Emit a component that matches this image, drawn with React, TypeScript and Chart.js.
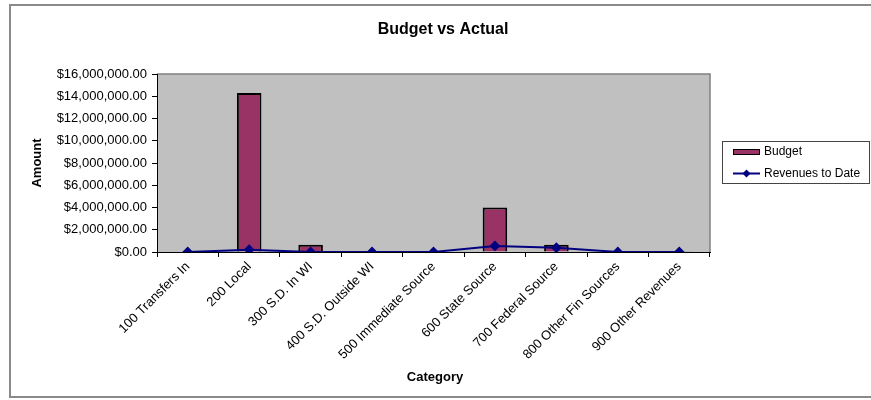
import React, { useEffect, useRef } from "react";
import { Chart, registerables } from "chart.js";

Chart.register(...registerables);

const categories = [
  "100 Transfers In",
  "200 Local",
  "300 S.D. In WI",
  "400 S.D. Outside WI",
  "500 Immediate Source",
  "600 State Source",
  "700 Federal Source",
  "800 Other Fin Sources",
  "900 Other Revenues",
];
const budget = [0, 14300000, 650000, 0, 0, 4000000, 650000, 0, 60000];
const revenuesToDate = [0, 200000, 0, 0, 0, 550000, 380000, 0, 0];
const yMin = 0;
const yMax = 16000000;
const yStep = 2000000;

const chartTitle = "Budget vs Actual";
const xTitle = "Category";
const yTitle = "Amount";

const FONT = "'Liberation Sans', Arial, sans-serif";
const BAR_COLOR = "#993366";
const LINE_COLOR = "#000080";

const money = (v: number) =>
  "$" + v.toLocaleString("en-US", { minimumFractionDigits: 2, maximumFractionDigits: 2 });

const decorPlugin = {
  id: "decor",
  beforeDraw(chart: any) {
    const { ctx, chartArea } = chart;
    const { left, top, right, bottom } = chartArea;
    ctx.save();
    ctx.fillStyle = "#ffffff";
    ctx.fillRect(0, 0, chart.width, chart.height);
    // outer frame
    ctx.strokeStyle = "#8a8a8a";
    ctx.lineWidth = 2;
    ctx.strokeRect(10, 5, chart.width + 20, 392);
    // plot area
    ctx.fillStyle = "#c0c0c0";
    ctx.fillRect(left, top, right - left, bottom - top);
    ctx.strokeStyle = "#808080";
    ctx.lineWidth = 1.5;
    ctx.beginPath();
    ctx.moveTo(left, top);
    ctx.lineTo(right, top);
    ctx.lineTo(right, bottom);
    ctx.stroke();
    ctx.restore();
  },
  afterDraw(chart: any) {
    const { ctx, chartArea } = chart;
    ctx.save();
    ctx.fillStyle = "#000";
    // title
    ctx.font = `bold 16px ${FONT}`;
    ctx.textAlign = "center";
    ctx.textBaseline = "middle";
    ctx.fillText(chartTitle, 443, 30);
    // axis titles
    ctx.font = `bold 13px ${FONT}`;
    ctx.fillText(xTitle, 435, 377);
    ctx.save();
    ctx.translate(37, (chartArea.top + chartArea.bottom) / 2);
    ctx.rotate(-Math.PI / 2);
    ctx.fillText(yTitle, 0, 0);
    ctx.restore();
    // legend
    const ds = chart.data.datasets;
    ctx.strokeStyle = "#444";
    ctx.lineWidth = 1;
    ctx.strokeRect(722.5, 141.5, 147, 42);
    ctx.font = `12px ${FONT}`;
    ctx.textAlign = "left";
    ctx.textBaseline = "middle";
    // Budget swatch
    ctx.fillStyle = BAR_COLOR;
    ctx.fillRect(733, 149, 27, 6);
    ctx.strokeStyle = "#000";
    ctx.lineWidth = 1;
    ctx.strokeRect(733.5, 149.5, 26, 5);
    ctx.fillStyle = "#000";
    ctx.fillText(ds[0].label, 764, 152);
    // Revenues line
    ctx.strokeStyle = LINE_COLOR;
    ctx.lineWidth = 2;
    ctx.beginPath();
    ctx.moveTo(733, 173.5);
    ctx.lineTo(760, 173.5);
    ctx.stroke();
    ctx.fillStyle = LINE_COLOR;
    ctx.beginPath();
    ctx.moveTo(746.5, 169.5);
    ctx.lineTo(750.5, 173.5);
    ctx.lineTo(746.5, 177.5);
    ctx.lineTo(742.5, 173.5);
    ctx.closePath();
    ctx.fill();
    ctx.fillStyle = "#000";
    ctx.fillText(ds[1].label, 764, 173.5);
    ctx.restore();
  },
};

export default function App() {
  const ref = useRef<HTMLCanvasElement | null>(null);
  useEffect(() => {
    if (!ref.current) return;
    const chart = new Chart(ref.current, {
      type: "bar",
      data: {
        labels: categories,
        datasets: [
          {
            type: "bar",
            label: "Budget",
            data: budget,
            backgroundColor: BAR_COLOR,
            borderColor: "#000000",
            borderWidth: 2,
            barPercentage: 0.4,
            categoryPercentage: 1,
            order: 1,
          },
          {
            type: "line",
            label: "Revenues to Date",
            data: revenuesToDate,
            borderColor: LINE_COLOR,
            backgroundColor: LINE_COLOR,
            borderWidth: 2,
            pointStyle: "rectRot",
            pointRadius: 4,
            pointBackgroundColor: LINE_COLOR,
            pointBorderColor: LINE_COLOR,
            tension: 0,
            order: 0,
          } as any,
        ],
      },
      options: {
        animation: false,
        responsive: false,
        maintainAspectRatio: false,
        devicePixelRatio: 1,
        layout: { padding: { top: 74, right: 161, bottom: 0, left: 0 } },
        plugins: {
          legend: { display: false },
          title: { display: false },
          tooltip: { enabled: false },
        },
        scales: {
          x: {
            offset: true,
            grid: {
              display: true,
              drawOnChartArea: false,
              drawTicks: true,
              tickLength: 5,
              color: "#000",
              offset: true,
            },
            border: { display: true, color: "#000", width: 1 },
            ticks: {
              autoSkip: false,
              maxRotation: 45,
              minRotation: 45,
              color: "#000",
              font: { family: FONT, size: 13 },
              padding: 2,
            },
            afterFit(scale: any) {
              scale.height = 148;
            },
          },
          y: {
            min: yMin,
            max: yMax,
            grid: {
              display: true,
              drawOnChartArea: false,
              drawTicks: true,
              tickLength: 5,
              color: "#000",
            },
            border: { display: true, color: "#000", width: 1 },
            ticks: {
              stepSize: yStep,
              color: "#000",
              font: { family: FONT, size: 13 },
              padding: 5,
              callback: (v: any) => money(Number(v)),
            },
            afterFit(scale: any) {
              scale.width = 157;
            },
          },
        },
      },
      plugins: [decorPlugin],
    });
    return () => chart.destroy();
  }, []);
  return (
    <div style={{ position: "fixed", left: 0, top: 0, width: 871, height: 400, background: "#fff" }}>
      <canvas ref={ref} width={871} height={400} style={{ width: 871, height: 400, display: "block" }} />
    </div>
  );
}
